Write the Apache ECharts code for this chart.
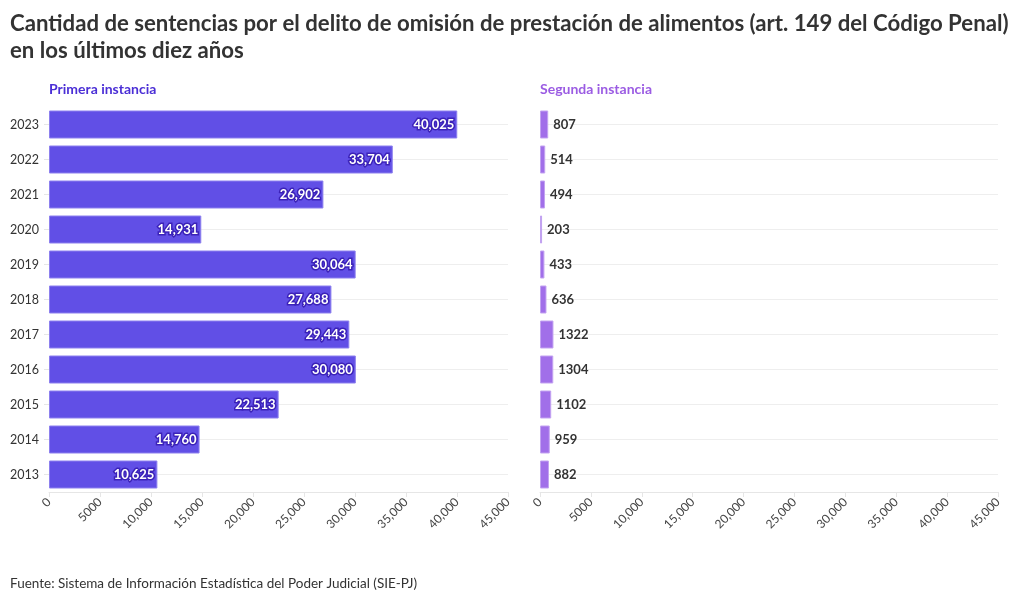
<!DOCTYPE html>
<html><head><meta charset="utf-8">
<script src="https://cdn.jsdelivr.net/npm/echarts@6/dist/echarts.min.js"></script>
<style>html,body{margin:0;padding:0;background:#fff}#c{width:1020px;height:603px}</style>
</head><body><div id="c"></div>
<script>
const years = ['2013','2014','2015','2016','2017','2018','2019','2020','2021','2022','2023'];
const primera = [10625,14760,22513,30080,29443,27688,30064,14931,26902,33704,40025];
const segunda = [882,959,1102,1304,1322,636,433,203,494,514,807];
const xTicks = {min:0, max:45000, interval:5000};
const title = 'Cantidad de sentencias por el delito de omisión de prestación de alimentos (art. 149 del Código Penal)\nen los últimos diez años';
const source = 'Fuente: Sistema de Información Estadística del Poder Judicial (SIE-PJ)';
const FONT = 'Lato';
const fmt = v => v >= 10000 ? v.toLocaleString('en-US') : String(v);
const chart = echarts.init(document.getElementById('c'));
function xAxis(idx){
  return {type:'value', gridIndex:idx, min:xTicks.min, max:xTicks.max, interval:xTicks.interval,
    axisLine:{show:true,lineStyle:{color:'#e6e6e6'}}, axisTick:{show:true,length:5,lineStyle:{color:'#e6e6e6'}},
    splitLine:{show:false},
    axisLabel:{rotate:45, color:'#444', fontFamily:FONT, fontSize:12, margin:8, formatter:fmt}};
}
function yAxis(idx, showLabels){
  return {type:'category', gridIndex:idx, data:years,
    axisLine:{show:false}, axisTick:{show:showLabels, alignWithLabel:true, length:5, lineStyle:{color:'#e6e6e6'}},
    splitLine:{show:true, alignWithLabel:true, lineStyle:{color:'#eeeeee'}},
    axisLabel:{show:showLabels, color:'#333', fontFamily:FONT, fontSize:12.5, margin:10}};
}
chart.setOption({
  animation:false,
  title:[
    {text:title, left:5, top:5, textStyle:{fontFamily:FONT, fontWeight:'bold', fontSize:22.2, color:'#333', lineHeight:27}},
    {text:'Primera instancia', left:44, top:77, textStyle:{fontFamily:FONT, fontWeight:'bold', fontSize:14, color:'#4b2fd6'}},
    {text:'Segunda instancia', left:535, top:77, textStyle:{fontFamily:FONT, fontWeight:'bold', fontSize:14, color:'#9b5ce3'}},
    {text:source, left:5, top:572, textStyle:{fontFamily:FONT, fontWeight:'normal', fontSize:13.5, color:'#333'}}
  ],
  grid:[
    {left:49, width:459, top:107, height:385},
    {left:540, width:458, top:107, height:385}
  ],
  xAxis:[xAxis(0), xAxis(1)],
  yAxis:[yAxis(0,true), yAxis(1,false)],
  series:[
    {type:'bar', xAxisIndex:0, yAxisIndex:0, data:primera, barCategoryGap:'20%',
     itemStyle:{color:'#614fe6', borderColor:'#8d80ee', borderWidth:1},
     label:{show:true, position:'insideRight', offset:[2,0], color:'#fff', fontFamily:FONT, fontWeight:'bold', fontSize:13,
       textBorderColor:'#3b22b8', textBorderWidth:3, formatter:p=>p.value.toLocaleString('en-US')}},
    {type:'bar', xAxisIndex:1, yAxisIndex:1, data:segunda, barCategoryGap:'20%',
     itemStyle:{color:'#a16fe9', borderColor:'#c3a3f1', borderWidth:1},
     label:{show:true, position:'right', distance:5, color:'#333', fontFamily:FONT, fontWeight:'bold', fontSize:13,
       formatter:p=>String(p.value)}}
  ]
});
</script></body></html>
